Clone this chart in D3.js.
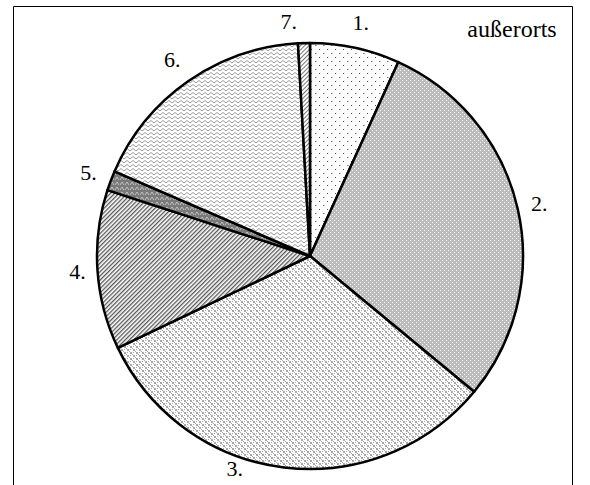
<!DOCTYPE html>
<html><head><meta charset="utf-8">
<script src="https://cdn.jsdelivr.net/npm/d3@7"></script>
<style>html,body{margin:0;padding:0;background:#fff;}svg{display:block;}</style>
</head><body>
<script>
const categories = ["1.", "2.", "3.", "4.", "5.", "6.", "7."];
const values = [6.8, 29.2, 31.9, 12.1, 1.5, 17.6, 0.9];
const title = "außerorts";

const W = 590, H = 485;
const svg = d3.select("body").append("svg").attr("width", W).attr("height", H);
const defs = svg.append("defs");

function pat(id, w, h, draw, transform) {
  const p = defs.append("pattern").attr("id", id).attr("patternUnits", "userSpaceOnUse")
    .attr("width", w).attr("height", h);
  if (transform) p.attr("patternTransform", transform);
  draw(p);
}
// 1: sparse dots on white
pat("p1", 8, 8, p => {
  p.append("rect").attr("width", 8).attr("height", 8).attr("fill", "#fff");
  p.append("rect").attr("x", 1).attr("y", 1).attr("width", 1).attr("height", 1).attr("fill", "#555");
  p.append("rect").attr("x", 5).attr("y", 5).attr("width", 1.5).attr("height", 1).attr("fill", "#777");
});
// 2: gray with white dots
pat("p2", 4, 4, p => {
  p.append("rect").attr("width", 4).attr("height", 4).attr("fill", "#bcbcbc");
  p.append("rect").attr("x", 0).attr("y", 0).attr("width", 1).attr("height", 1).attr("fill", "#fff");
  p.append("rect").attr("x", 2).attr("y", 2).attr("width", 1).attr("height", 1).attr("fill", "#fff");
});
// 3: weave
pat("p3", 6, 6, p => {
  p.append("rect").attr("width", 6).attr("height", 6).attr("fill", "#fff");
  p.append("path").attr("d", "M0,0h2v2h-2zM3,3h2v2h-2zM2,2h1v1h-1zM5,5h1v1h-1zM3,0h1v1h-1zM0,3h1v1h-1z").attr("fill", "#a8a8a8");
});
// 4: diagonal hatch
pat("p4", 3, 3, p => {
  p.append("rect").attr("width", 3).attr("height", 3).attr("fill", "#fff");
  p.append("rect").attr("x", 0).attr("y", 0).attr("width", 1.3).attr("height", 3).attr("fill", "#555");
}, "rotate(45)");
// 5: dark with white zigzag
pat("p5", 5, 5, p => {
  p.append("rect").attr("width", 5).attr("height", 5).attr("fill", "#7a7a7a");
  p.append("path").attr("d", "M0,4 L2,1 L4,4").attr("fill", "none").attr("stroke", "#d0d0d0").attr("stroke-width", 0.8);
});
// 6: chevrons
pat("p6", 6, 4, p => {
  p.append("rect").attr("width", 6).attr("height", 4).attr("fill", "#fff");
  p.append("path").attr("d", "M0,3 L3,0.5 L6,3").attr("fill", "none").attr("stroke", "#9a9a9a").attr("stroke-width", 1);
});
// 7: diagonal hatch lighter
pat("p7", 3, 3, p => {
  p.append("rect").attr("width", 3).attr("height", 3).attr("fill", "#fff");
  p.append("rect").attr("x", 0).attr("y", 0).attr("width", 1).attr("height", 3).attr("fill", "#777");
}, "rotate(45)");
const fills = ["p1", "p2", "p3", "p4", "p5", "p6", "p7"];

// frame
svg.append("path").attr("d", `M13.5,${H} V6.5 H572.5 V${H}`).attr("fill", "none")
  .attr("stroke", "#000").attr("stroke-width", 1);

const cx = 310, cy = 256, R = 213;
const g = svg.append("g").attr("transform", `translate(${cx},${cy})`);
const pie = d3.pie().sort(null).value(d => d)(values);
const arc = d3.arc().innerRadius(0).outerRadius(R);

g.selectAll("path.slice").data(pie).join("path").attr("class", "slice")
  .attr("d", arc)
  .attr("fill", (d, i) => `url(#${fills[i]})`)
  .attr("stroke", "#000").attr("stroke-width", 2.5).attr("stroke-linejoin", "round");

// labels: placed outside the pie, box-aware distance, clamped to the visible area
const gap = 10, halfW = 9, halfH = 15, maxY = 212, fitR = 225;
const labels = pie.map((d, i) => {
  let a = (d.startAngle + d.endAngle) / 2;
  const r = R + gap + Math.abs(Math.sin(a)) * halfW + Math.abs(Math.cos(a)) * halfH;
  let x = r * Math.sin(a), y = -r * Math.cos(a);
  if (y > maxY) {
    const da = Math.acos(maxY / fitR);
    a = a > Math.PI ? Math.PI + da : Math.PI - da;
    x = fitR * Math.sin(a); y = -fitR * Math.cos(a);
  }
  return {i, x, y, v: d.value};
});
// simple overlap avoidance: push the smaller slice's label away
for (let k = 0; k < labels.length; k++) {
  for (let m = 0; m < labels.length; m++) {
    if (k === m) continue;
    const A = labels[k], B = labels[m];
    if (A.v < B.v && Math.abs(A.x - B.x) < 70 && Math.abs(A.y - B.y) < 25) {
      A.x = B.x + (A.x < B.x ? -72 : 72);
      A.y += 3;
    }
  }
}
g.selectAll("text.lbl").data(labels).join("text").attr("class", "lbl")
  .attr("x", d => d.x).attr("y", d => d.y).attr("dy", "0.35em")
  .attr("text-anchor", "middle")
  .attr("font-family", "'Liberation Serif','Times New Roman',serif")
  .attr("font-size", 22).attr("fill", "#000").text(d => categories[d.i]);

svg.append("text").attr("x", 512).attr("y", 37).attr("text-anchor", "middle")
  .attr("font-family", "'Liberation Serif','Times New Roman',serif")
  .attr("font-size", 24).attr("fill", "#000").text(title);
</script>
</body></html>
